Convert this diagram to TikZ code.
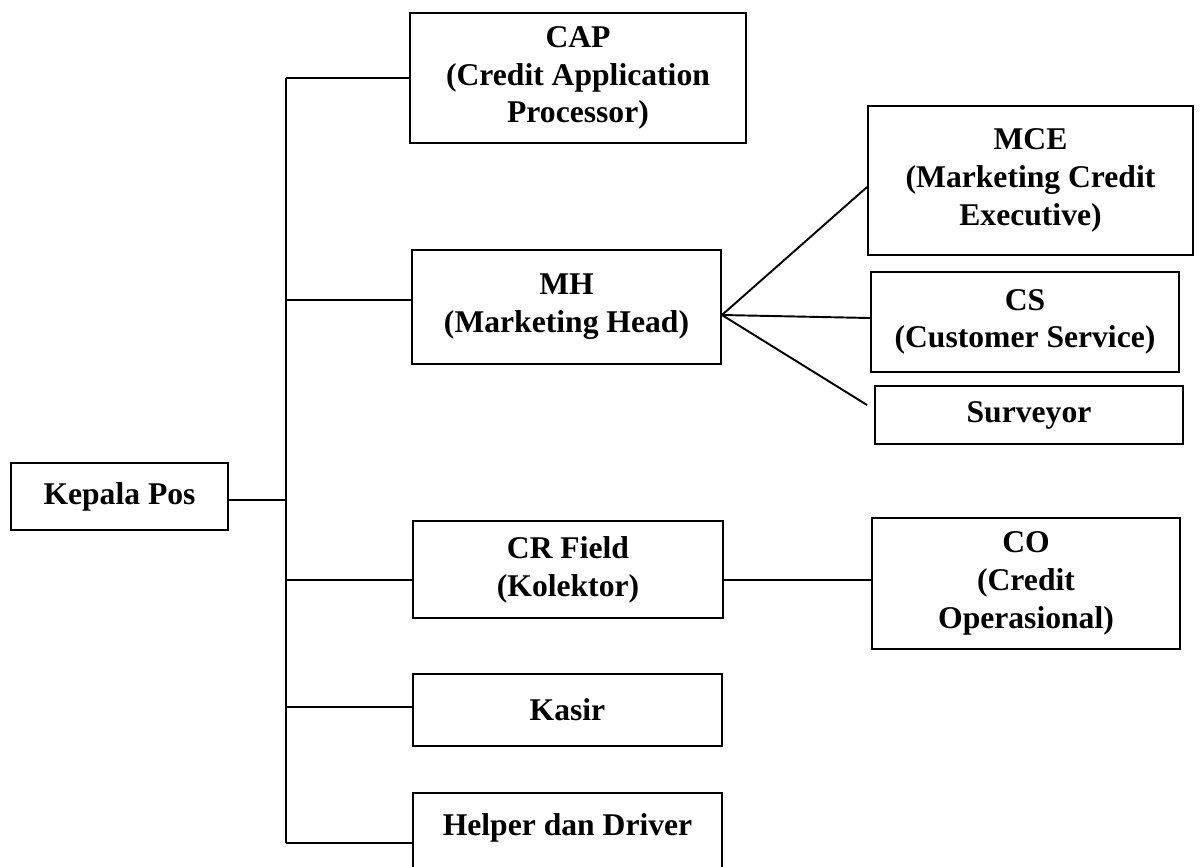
\documentclass[tikz,border=0pt]{standalone}
\usepackage{fontspec}
\setmainfont{Liberation Serif}
\usepackage{tikz}
\usetikzlibrary{positioning}

\tikzset{
  jabatan/.style={rectangle, draw, line width=1.1pt, inner sep=0pt, align=center,
    font=\bfseries\fontsize{18}{21.5}\selectfont},
  garis/.style={line width=1.1pt}
}

\begin{document}
\begin{tikzpicture}[x=0.02cm, y=-0.02cm]

\clip (0,0) rectangle (1200,866);

% --- Kepala Pos ---
\node[jabatan, minimum width=4.34cm, minimum height=1.34cm] (kepala) at (119.5,496.5) {Kepala Pos};

% --- bawahan langsung ---
\node[jabatan, minimum width=6.72cm, minimum height=2.6cm] (cap) at (578,78)
{CAP\\(Credit Application\\Processor)};
\node[jabatan, minimum width=6.18cm, minimum height=2.28cm] (mh) at (566.5,307)
{MH\\(Marketing Head)};
\node[jabatan, minimum width=6.2cm, minimum height=1.94cm] (crf) at (568,569.5)
{CR Field\\(Kolektor)};
\node[jabatan, minimum width=6.18cm, minimum height=1.44cm] (kasir) at (567.5,710) {Kasir};
\node[jabatan, minimum width=6.18cm, minimum height=2cm] (helper) at (567.5,843)
{Helper dan Driver\\\mbox{}};

% --- bawahan MH ---
\node[jabatan, minimum width=6.5cm, minimum height=2.98cm] (mce) at (1030.5,180.5)
{MCE\\(Marketing Credit\\Executive)};
\node[jabatan, minimum width=6.16cm, minimum height=2cm] (cs) at (1025,322)
{CS\\(Customer Service)};
\node[jabatan, minimum width=6.16cm, minimum height=1.16cm] (surv) at (1029,415) {Surveyor};

% --- bawahan CR Field ---
\node[jabatan, minimum width=6.16cm, minimum height=2.62cm] (co) at (1026,583.5)
{CO\\(Credit\\Operasional)};

% --- Garis ---
\coordinate (atas) at (286,78);
\coordinate (bawah) at (286,843);
\draw[garis] (atas) -- (bawah);

\draw[garis] ([yshift=-0.07cm]kepala.east) -- ([yshift=-0.07cm]kepala.east -| atas);
\draw[garis] (atas) -- (cap.west);
\draw[garis] ([yshift=0.14cm]mh.west) -- ([yshift=0.14cm]mh.west -| atas);
\draw[garis] ([yshift=-0.21cm]crf.west) -- ([yshift=-0.21cm]crf.west -| atas);
\draw[garis] ([yshift=0.06cm]kasir.west) -- ([yshift=0.06cm]kasir.west -| atas);
\draw[garis] (bawah) -- (helper.west);

\coordinate (hub) at ([yshift=-0.16cm]mh.east);
\draw[garis] (hub) -- ([yshift=-0.13cm]mce.west);
\draw[garis] (hub) -- ([yshift=0.08cm]cs.west);
\draw[garis] (hub) -- ([xshift=-0.14cm, yshift=0.2cm]surv.west);

\draw[garis] ([yshift=-0.21cm]crf.east) -- ([yshift=-0.21cm]crf.east -| co.west);

\end{tikzpicture}
\end{document}
